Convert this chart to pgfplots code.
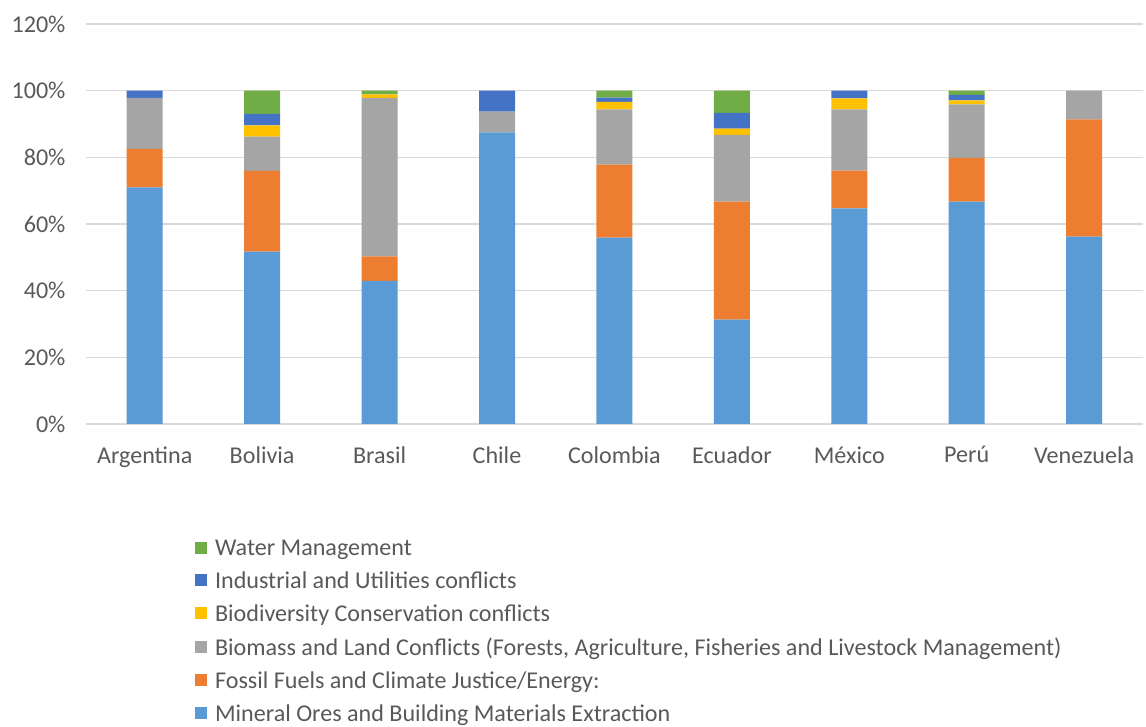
\documentclass[border=0pt]{standalone}
\usepackage{pgfplots}
\pgfplotsset{compat=1.18}
\usepackage{pgfplotstable}
\usepackage{fontspec}
\setmainfont{Carlito}

\definecolor{mineral}{HTML}{5B9BD5}
\definecolor{fossil}{HTML}{ED7D31}
\definecolor{biomass}{HTML}{A5A5A5}
\definecolor{biodiv}{HTML}{FFC000}
\definecolor{industrial}{HTML}{4472C4}
\definecolor{water}{HTML}{70AD47}
\definecolor{txt}{HTML}{595959}
\definecolor{gridgray}{HTML}{D9D9D9}

% Share of conflicts by type, per country (%)
\pgfplotstableread{
x mineral fossil biomass biodiv industrial water
0 71.0 11.5 15.3 0.0 2.2 0.0
1 51.7 24.2 10.3 3.4 3.4 7.0
2 42.9 7.4 47.5 1.1 0.0 1.1
3 87.5 0.0 6.2 0.0 6.3 0.0
4 55.9 21.9 16.6 2.2 1.3 2.1
5 31.3 35.4 20.0 1.9 4.7 6.7
6 64.7 11.3 18.4 3.3 2.3 0.0
7 66.7 13.1 16.1 1.2 1.6 1.3
8 56.2 35.2 8.6 0.0 0.0 0.0
}\conflicts

\newcommand{\chartfont}{\fontsize{24.1}{28}\selectfont}

\begin{document}
\begin{tikzpicture}[x=1pt,y=1pt]
\useasboundingbox (-86,-303) rectangle (1060,424);
\begin{axis}[
  at={(0,0)}, anchor=south west,
  scale only axis,
  width=1057pt, height=400pt,
  ybar stacked,
  bar width=36pt,
  xmin=-0.5, xmax=8.5,
  ymin=0, ymax=120,
  axis line style={draw=none},
  ymajorgrids,
  major grid style={gridgray, line width=1.2pt},
  major tick length=0pt,
  ytick={0,20,40,60,80,100,120},
  yticklabels={0\%,20\%,40\%,60\%,80\%,100\%,120\%},
  xtick={0,...,8},
  xticklabels={Argentina,Bolivia,Brasil,Chile,Colombia,Ecuador,México,Perú,Venezuela},
  ticklabel style={font=\chartfont, text=txt},
  xticklabel style={yshift=-19pt},
  yticklabel style={xshift=-17pt},
  reverse legend,
  legend cell align=left,
  legend style={
    at={(axis description cs:0.103,-0.285)}, anchor=north west,
    draw=none, fill=none, inner sep=0pt,
    font=\chartfont, text=txt,
    row sep=10.8pt,
    /tikz/every odd column/.append style={column sep=6pt},
  },
  legend image code/.code={\fill[#1] (0pt,-5pt) rectangle (12pt,7pt);},
]
\addplot[fill=mineral, draw=none] table[x=x, y=mineral] {\conflicts};
\addplot[fill=fossil, draw=none] table[x=x, y=fossil] {\conflicts};
\addplot[fill=biomass, draw=none] table[x=x, y=biomass] {\conflicts};
\addplot[fill=biodiv, draw=none] table[x=x, y=biodiv] {\conflicts};
\addplot[fill=industrial, draw=none] table[x=x, y=industrial] {\conflicts};
\addplot[fill=water, draw=none] table[x=x, y=water] {\conflicts};
\legend{Mineral Ores and Building Materials Extraction,
  Fossil Fuels and Climate Justice/Energy:,
  {Biomass and Land Conflicts (Forests, Agriculture, Fisheries and Livestock Management)},
  Biodiversity Conservation conflicts,
  Industrial and Utilities conflicts,
  Water Management}
\end{axis}
\end{tikzpicture}
\end{document}
